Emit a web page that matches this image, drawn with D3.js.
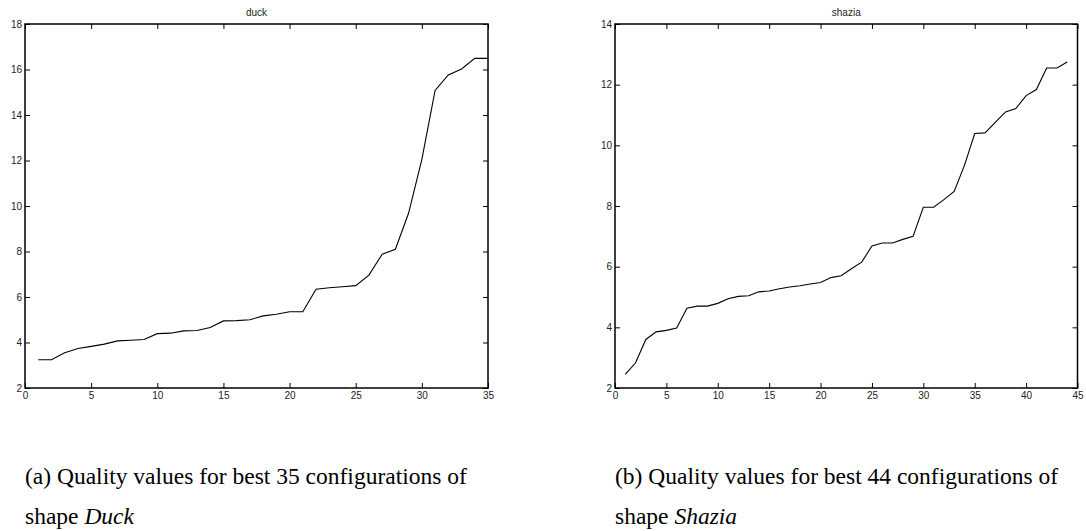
<!doctype html>
<html>
<head>
	<meta charset="UTF-8">
	<script src="https://d3js.org/d3.v7.min.js"></script>
	<style>
		body { margin: 0; background: #fff; }
		.tick text { font-family: "Liberation Sans", Arial, sans-serif; font-size: 10px; fill: #222; }
		.caption { font-family: "Liberation Serif", "Times New Roman", serif; font-size: 23.5px; fill: #000; }
	</style>
</head>
<body>
	<script>
		// Quality values
		var duckX = d3.range(1, 36);
		var duckY = [3.24, 3.24, 3.55, 3.74, 3.83, 3.93, 4.07, 4.10, 4.13, 4.39,
			4.41, 4.51, 4.53, 4.66, 4.95, 4.96, 5.00, 5.17, 5.24, 5.35,
			5.35, 6.34, 6.41, 6.45, 6.50, 6.96, 7.88, 8.10, 9.69, 12.05,
			15.08, 15.76, 16.02, 16.49, 16.49];

		var shaziaX = d3.range(1, 45);
		var shaziaY = [2.45, 2.83, 3.60, 3.85, 3.90, 3.98, 4.63, 4.70, 4.70, 4.79,
			4.94, 5.02, 5.04, 5.17, 5.20, 5.27, 5.33, 5.37, 5.43, 5.48,
			5.64, 5.70, 5.93, 6.15, 6.68, 6.78, 6.78, 6.90, 7.00, 7.96,
			7.96, 8.21, 8.48, 9.34, 10.39, 10.41, 10.76, 11.10, 11.21, 11.64,
			11.84, 12.55, 12.55, 12.75];

		var duckXTicks = [0, 5, 10, 15, 20, 25, 30, 35];
		var duckYTicks = [2, 4, 6, 8, 10, 12, 14, 16, 18];
		var shaziaXTicks = [0, 5, 10, 15, 20, 25, 30, 35, 40, 45];
		var shaziaYTicks = [2, 4, 6, 8, 10, 12, 14];

		var titles = ["duck", "shazia"];
		var captionsA = ["(a) Quality values for best 35 configurations of", "shape "];
		var captionsB = ["(b) Quality values for best 44 configurations of", "shape "];
		var shapeNames = ["Duck", "Shazia"];

		var svg = d3.select("body").append("svg")
			.attr("width", 1086)
			.attr("height", 531);

		function panel(left, right, top, bottom, xs, ys, xTicks, yTicks, title) {
			var x = d3.scaleLinear().domain([xTicks[0], xTicks[xTicks.length - 1]]).range([left, right]);
			var y = d3.scaleLinear().domain([yTicks[0], yTicks[yTicks.length - 1]]).range([bottom, top]);
			var g = svg.append("g");

			// axes with inward ticks, mirrored on top and right
			g.append("g").attr("transform", "translate(0," + bottom + ")")
				.call(d3.axisBottom(x).tickValues(xTicks).tickSizeInner(-5).tickSizeOuter(0).tickPadding(4));
			g.append("g").attr("transform", "translate(0," + top + ")")
				.call(d3.axisTop(x).tickValues(xTicks).tickSizeInner(-5).tickSizeOuter(0).tickFormat(""));
			g.append("g").attr("transform", "translate(" + left + ",0)")
				.call(d3.axisLeft(y).tickValues(yTicks).tickSizeInner(-5).tickSizeOuter(0).tickPadding(3));
			g.append("g").attr("transform", "translate(" + right + ",0)")
				.call(d3.axisRight(y).tickValues(yTicks).tickSizeInner(-5).tickSizeOuter(0).tickFormat(""));
			g.selectAll(".domain").remove();
			g.selectAll(".tick line").attr("stroke", "#000").attr("stroke-width", 1);

			// box
			g.append("rect")
				.attr("x", left).attr("y", top)
				.attr("width", right - left).attr("height", bottom - top)
				.attr("fill", "none").attr("stroke", "#000").attr("stroke-width", 1.5);

			var line = d3.line()
				.x(function(d, i) { return x(xs[i]); })
				.y(function(d) { return y(d); });
			g.append("path")
				.datum(ys)
				.attr("d", line)
				.attr("fill", "none")
				.attr("stroke", "#000")
				.attr("stroke-width", 1.1);

			g.append("text")
				.attr("x", (left + right) / 2)
				.attr("y", top - 8)
				.attr("text-anchor", "middle")
				.style("font-family", "Liberation Sans, Arial, sans-serif")
				.style("font-size", "10px")
				.attr("fill", "#222")
				.text(title);
		}

		panel(25, 488, 24, 388, duckX, duckY, duckXTicks, duckYTicks, titles[0]);
		panel(615, 1077.5, 24, 388, shaziaX, shaziaY, shaziaXTicks, shaziaYTicks, titles[1]);

		function caption(x0, lines, name) {
			svg.append("text").attr("class", "caption")
				.attr("x", x0).attr("y", 484).text(lines[0]);
			var t = svg.append("text").attr("class", "caption")
				.attr("x", x0).attr("y", 524).text(lines[1]);
			t.append("tspan").style("font-style", "italic").text(name);
		}
		caption(25, captionsA, shapeNames[0]);
		caption(615, captionsB, shapeNames[1]);
	</script>
</body>
</html>
